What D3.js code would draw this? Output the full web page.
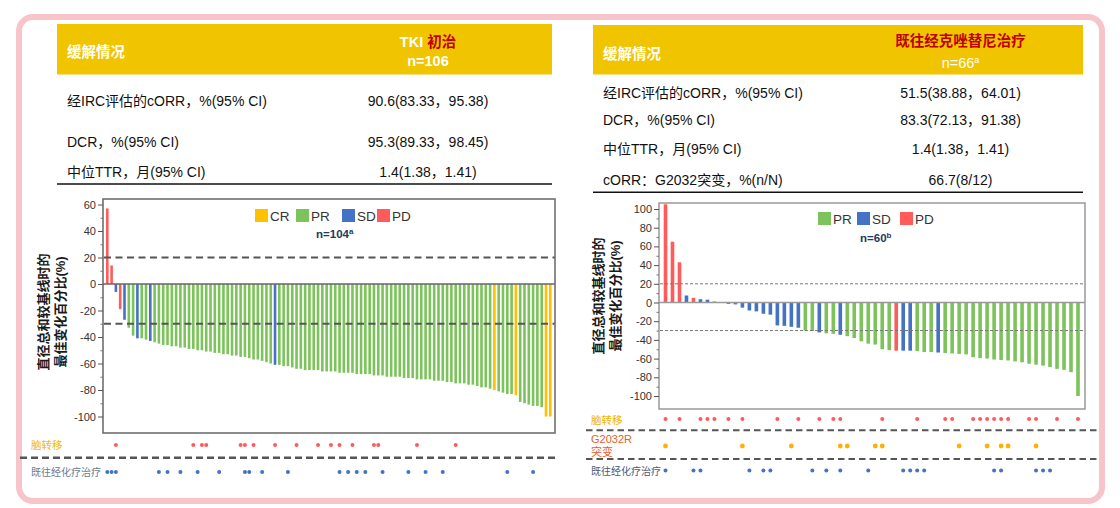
<!DOCTYPE html>
<html><head><meta charset="utf-8">
<script src="https://cdn.jsdelivr.net/npm/d3@7"></script>
<style>
body{margin:0;background:#fff;}
svg{display:block;font-family:"Liberation Sans","Noto Sans CJK SC",sans-serif;}
</style>
</head><body>
<svg id="c" width="1120" height="508"></svg>
<script>
// ---------------- DATA ----------------
const leftHeaderLabel = "缓解情况";
const leftGroupTitle = ["TKI ", "初治"];
const leftGroupN = "n=106";
const leftRowLabels = ["经IRC评估的cORR，%(95% CI)", "DCR，%(95% CI)", "中位TTR，月(95% CI)"];
const leftRowValues = ["90.6(83.33，95.38)", "95.3(89.33，98.45)", "1.4(1.38，1.41)"];

const rightHeaderLabel = "缓解情况";
const rightGroupTitle = ["既往经克唑替尼治疗"];
const rightGroupN = "n=66";
const rightGroupNSup = "a";
const rightRowLabels = ["经IRC评估的cORR，%(95% CI)", "DCR，%(95% CI)", "中位TTR，月(95% CI)", "cORR：G2032突变，%(n/N)"];
const rightRowValues = ["51.5(38.88，64.01)", "83.3(72.13，91.38)", "1.4(1.38，1.41)", "66.7(8/12)"];

const yAxisTitle = ["直径总和较基线时的", "最佳变化百分比(%)"];
const leftLegend = ["CR", "PR", "SD", "PD"];
const rightLegend = ["PR", "SD", "PD"];
const leftNLabel = "n=104", leftNSup = "a";
const rightNLabel = "n=60", rightNSup = "b";
const refLines = [20, -30];

const leftTicks = [60, 40, 20, 0, -20, -40, -60, -80, -100];
const leftMinorTicks = [50, 30, 10, -10, -30, -50, -70, -90];
const rightTicks = [100, 80, 60, 40, 20, 0, -20, -40, -60, -80, -100];
const rightMinorTicks = [90, 70, 50, 30, 10, -10, -30, -50, -70, -90];

const leftValues = [
  57, 14, -6, -19, -27, -33, -39, -41, -41, -42,
  -43, -44, -45, -46, -46, -47, -47, -48, -48, -49,
  -49, -50, -50, -51, -51, -52, -52, -53, -53, -54,
  -54, -55, -55, -56, -57, -57, -58, -59, -60, -61,
  -61, -62, -62, -63, -64, -64, -65, -65, -65, -65,
  -66, -66, -66, -66, -67, -67, -67, -67, -68, -68,
  -68, -68, -69, -69, -69, -70, -70, -70, -70, -71,
  -71, -71, -72, -72, -72, -72, -73, -73, -73, -74,
  -74, -75, -75, -75, -76, -76, -77, -78, -78, -79,
  -80, -81, -82, -83, -83, -84, -89, -90, -91, -92,
  -92, -93, -100, -100
];
const leftResponse = [
  "PD","PD","SD","PD","SD","PR","PR","SD","PR","PR",
  "SD","PR","PR","PR","PR","PR","PR","PR","PR","PR",
  "PR","PR","PR","PR","PR","PR","PR","PR","PR","PR",
  "PR","PR","PR","PR","PR","PR","PR","PR","PR","SD",
  "PR","PR","PR","PR","PR","PR","PR","PR","PR","PR",
  "PR","PR","PR","PR","PR","PR","PR","PR","PR","PR",
  "PR","PR","PR","PR","PR","PR","PR","PR","PR","PR",
  "PR","PR","PR","PR","PR","PR","PR","PR","PR","PR",
  "PR","PR","PR","PR","PR","PR","PR","PR","PR","PR",
  "CR","PR","PR","PR","PR","CR","PR","PR","PR","PR",
  "PR","PR","CR","CR"
];
const leftBrainMets = [2, 20, 22, 23, 31, 32, 34, 39, 44, 49, 52, 54, 57, 62, 63, 72, 81];
const leftPriorChemo = [0, 1, 2, 12, 14, 17, 21, 26, 32, 33, 36, 42, 54, 56, 58, 60, 64, 70, 74, 78, 93, 99];
const leftRowNames = ["脑转移", "既往经化疗治疗"];

const rightValues = [
  105, 65, 43, 7.5, 5, 3.5, 3, 1, -0.5, -1.5,
  -2, -5.5, -8.5, -9.5, -12, -13, -24.5, -25, -26, -27,
  -30, -30.5, -32, -33, -33.5, -34.5, -36, -38, -41.5, -44,
  -45, -50, -51, -51.5, -51.5, -51.5, -52, -53, -53, -53.5,
  -54, -54.5, -55, -55.5, -58.5, -59.5, -60, -61, -61.5, -62,
  -63, -64, -65.5, -66.5, -67.5, -69, -71, -72, -74.5, -100
];
const rightResponse = [
  "PD","PD","PD","SD","PD","SD","SD","SD","SD","SD",
  "SD","SD","SD","SD","SD","SD","SD","SD","SD","SD",
  "PR","PR","SD","PR","PR","SD","PR","PR","PR","PR",
  "PR","PR","PR","PD","SD","SD","PR","PR","PR","SD",
  "PR","PR","PR","PR","PR","PR","PR","PR","PR","PR",
  "PR","PR","PR","PR","PR","PR","PR","PR","PR","PR"
];
const rightBrainMets = [0, 2, 5, 6, 7, 9, 11, 16, 19, 22, 24, 25, 31, 36, 40, 41, 44, 45, 46, 47, 48, 49, 52, 53, 56, 59];
const rightG2032R = [0, 11, 18, 25, 26, 30, 31, 42, 46, 48, 49, 53];
const rightPriorChemo = [0, 4, 5, 12, 14, 15, 21, 23, 25, 29, 34, 35, 36, 37, 47, 48, 53, 54, 55];
const rightRowNames = ["脑转移", ["G2032R", "突变"], "既往经化疗治疗"];

// ---------------- STYLE ----------------
const colors = {CR: "#ffc000", PR: "#7cc35b", SD: "#4472c4", PD: "#ff5b5b"};
const gold = "#f1c400", darkRed = "#c00000";
const svg = d3.select("#c");

// outer frame
svg.append("rect").attr("x", 19).attr("y", 17).attr("width", 1083).attr("height", 484)
  .attr("rx", 14).attr("fill", "none").attr("stroke", "#f7c4ca").attr("stroke-width", 6);

// ---------------- TABLES ----------------
function drawTable(c) {
  const g = svg.append("g");
  g.append("rect").attr("x", c.x).attr("y", c.hy).attr("width", c.w).attr("height", c.hh).attr("fill", gold);
  g.append("text").attr("x", c.x + 10).attr("y", c.hLabelY).attr("fill", "#fff")
    .attr("font-weight", "bold").attr("font-size", 14.5).text(c.headerLabel);
  const t1 = g.append("text").attr("x", c.valX).attr("y", c.title1Y).attr("text-anchor", "middle")
    .attr("font-weight", "bold").attr("font-size", 14.5);
  c.title.forEach((s, i) => {
    t1.append("tspan").attr("fill", c.titleColors[i]).text(s);
  });
  const t2 = g.append("text").attr("x", c.valX).attr("y", c.title2Y).attr("text-anchor", "middle")
    .attr("fill", "#fff").attr("font-weight", c.nBold ? "bold" : "normal").attr("font-size", 14.5);
  t2.append("tspan").text(c.n);
  if (c.nSup) t2.append("tspan").attr("font-size", 9).attr("dy", -5).text(c.nSup);
  c.rowLabels.forEach((lab, i) => {
    g.append("text").attr("x", c.x + 10).attr("y", c.rowY[i]).attr("font-size", 14).attr("fill", "#111").text(lab);
    g.append("text").attr("x", c.valX).attr("y", c.rowY[i]).attr("font-size", 14).attr("fill", "#111")
      .attr("text-anchor", "middle").text(c.rowValues[i]);
  });
  g.append("line").attr("x1", c.x).attr("x2", c.x + c.w).attr("y1", c.lineY).attr("y2", c.lineY)
    .attr("stroke", "#111").attr("stroke-width", 1.5);
}
drawTable({x: 57, w: 495, hy: 24, hh: 50.5, hLabelY: 57, valX: 428, title1Y: 47, title2Y: 66,
  headerLabel: leftHeaderLabel, title: leftGroupTitle, titleColors: ["#fff", darkRed], n: leftGroupN, nBold: true,
  rowLabels: leftRowLabels, rowValues: leftRowValues, rowY: [106, 146.5, 176.5], lineY: 184});
drawTable({x: 593, w: 490, hy: 25, hh: 49.5, hLabelY: 58.5, valX: 960.5, title1Y: 46, title2Y: 68,
  headerLabel: rightHeaderLabel, title: rightGroupTitle, titleColors: [darkRed], n: rightGroupN, nSup: rightGroupNSup, nBold: false,
  rowLabels: rightRowLabels, rowValues: rightRowValues, rowY: [97.5, 125, 153.5, 185], lineY: 192.3});

// ---------------- WATERFALLS ----------------
function drawWaterfall(c) {
  const g = svg.append("g");
  const x = d3.scalePoint().domain(d3.range(c.values.length)).range(c.xRange);
  const y = d3.scaleLinear().domain(c.yDomain).range(c.yRange);
  // frame fill
  g.append("rect").attr("x", c.fx).attr("y", c.fy).attr("width", c.fw).attr("height", c.fh).attr("fill", "#fff");
  // bars
  g.append("g").selectAll("rect").data(c.values).join("rect")
    .attr("x", (d, i) => x(i) - c.barW / 2)
    .attr("width", c.barW)
    .attr("y", d => y(Math.max(0, d)))
    .attr("height", d => Math.abs(y(d) - y(0)))
    .attr("fill", (d, i) => colors[c.response[i]]);
  // reference lines
  g.append("g").selectAll("line").data(refLines).join("line")
    .attr("x1", c.fx + 1).attr("x2", c.fx + c.fw).attr("y1", d => y(d)).attr("y2", d => y(d))
    .attr("stroke", c.refColor).attr("stroke-width", c.refW).attr("stroke-dasharray", c.refDash);
  // zero line
  g.append("line").attr("x1", c.fx).attr("x2", c.fx + c.fw).attr("y1", y(0)).attr("y2", y(0))
    .attr("stroke", c.zeroColor).attr("stroke-width", 1.5);
  // frame
  g.append("rect").attr("x", c.fx).attr("y", c.fy).attr("width", c.fw).attr("height", c.fh)
    .attr("fill", "none").attr("stroke", c.frameColor).attr("stroke-width", 1.5);
  // axis
  const ax = g.append("g").attr("transform", `translate(${c.fx},0)`)
    .call(d3.axisLeft(y).tickValues(c.ticks).tickSize(5).tickPadding(2).tickFormat(d => String(d)));
  ax.select(".domain").remove();
  ax.selectAll("line").attr("stroke", "#555");
  ax.selectAll("text").attr("font-size", 11).attr("fill", "#333")
    .attr("font-family", "'Liberation Sans',sans-serif");
  const axm = g.append("g").attr("transform", `translate(${c.fx},0)`)
    .call(d3.axisLeft(y).tickValues(c.minorTicks).tickSize(2.5).tickFormat(""));
  axm.select(".domain").remove();
  axm.selectAll("line").attr("stroke", "#777");
  // y title
  yAxisTitle.forEach((t, i) => {
    g.append("text").attr("transform", `translate(${c.titleX[i]},${c.titleCY}) rotate(-90)`)
      .attr("text-anchor", "middle").attr("dominant-baseline", "central")
      .attr("font-size", 13).attr("font-weight", "bold").attr("fill", "#1a1a1a").text(t);
  });
  // legend
  const lg = g.append("g");
  c.legend.forEach((k, i) => {
    const lx = c.legX[i];
    lg.append("rect").attr("x", lx).attr("y", c.legY).attr("width", 13).attr("height", 13).attr("fill", colors[k]);
    lg.append("text").attr("x", lx + 15).attr("y", c.legY + 11.5).attr("font-size", 13.5).attr("fill", "#333").text(k);
  });
  const nt = lg.append("text").attr("x", c.nX).attr("y", c.nY).attr("font-size", 11.5)
    .attr("font-weight", "bold").attr("fill", "#1f3864");
  nt.append("tspan").text(c.nLabel);
  nt.append("tspan").attr("font-size", 8).attr("dy", -4).text(c.nSup);
  return x;
}

const xL = drawWaterfall({
  values: leftValues, response: leftResponse, xRange: [107.3, 550.3], yDomain: [-100, 60], yRange: [416.5, 204.5],
  fx: 103, fy: 199, fw: 452, fh: 234, barW: 2.6, ticks: leftTicks, minorTicks: leftMinorTicks,
  refColor: "#555", refW: 2, refDash: "7,4.5", zeroColor: "#666", frameColor: "#666",
  titleX: [43, 60], titleCY: 312, legend: leftLegend, legX: [255, 296, 342, 377], legY: 209,
  nX: 316, nY: 238, nLabel: leftNLabel, nSup: leftNSup
});
const xR = drawWaterfall({
  values: rightValues, response: rightResponse, xRange: [665.5, 1078], yDomain: [-100, 100], yRange: [396, 209],
  fx: 659, fy: 203, fw: 426, fh: 206, barW: 3.6, ticks: rightTicks, minorTicks: rightMinorTicks,
  refColor: "#777", refW: 1, refDash: "3,2", zeroColor: "#999", frameColor: "#999",
  titleX: [598, 615], titleCY: 296, legend: rightLegend, legX: [818, 857, 900], legY: 212,
  nX: 860, nY: 242, nLabel: rightNLabel, nSup: rightNSup
});

// ---------------- MARKER ROWS ----------------
function dots(xs, idx, cy, color, r) {
  svg.append("g").selectAll("circle").data(idx).join("circle")
    .attr("cx", d => xs(d)).attr("cy", cy).attr("r", r).attr("fill", color);
}
function dash(x1, x2, yy, w, da) {
  svg.append("line").attr("x1", x1).attr("x2", x2).attr("y1", yy).attr("y2", yy)
    .attr("stroke", "#555").attr("stroke-width", w).attr("stroke-dasharray", da);
}
// left
svg.append("text").attr("x", 31).attr("y", 449).attr("font-size", 10.5).attr("fill", "#f5b800").text(leftRowNames[0]);
svg.append("text").attr("x", 31).attr("y", 475.5).attr("font-size", 10).attr("fill", "#6a7a92").text(leftRowNames[1]);
dots(xL, leftBrainMets, 445, colors.PD, 2);
dash(20, 557, 457.7, 2.5, "7,4");
dots(xL, leftPriorChemo, 472, colors.SD, 2);
// right
svg.append("text").attr("x", 591).attr("y", 424).attr("font-size", 10.5).attr("fill", "#f5b000").text(rightRowNames[0]);
rightRowNames[1].forEach((t, i) => {
  svg.append("text").attr("x", 591).attr("y", 443 + i * 13).attr("font-size", 11).attr("fill", "#e8602c").text(t);
});
svg.append("text").attr("x", 591).attr("y", 475).attr("font-size", 10).attr("fill", "#4a5a78").text(rightRowNames[2]);
dots(xR, rightBrainMets, 419, colors.PD, 2);
dash(586, 1098, 430.3, 2, "6.5,4");
dots(xR, rightG2032R, 446, "#ffb000", 2.4);
dash(586, 1098, 459, 2, "6.5,4");
dots(xR, rightPriorChemo, 470.5, colors.SD, 2);
</script>
</body></html>
